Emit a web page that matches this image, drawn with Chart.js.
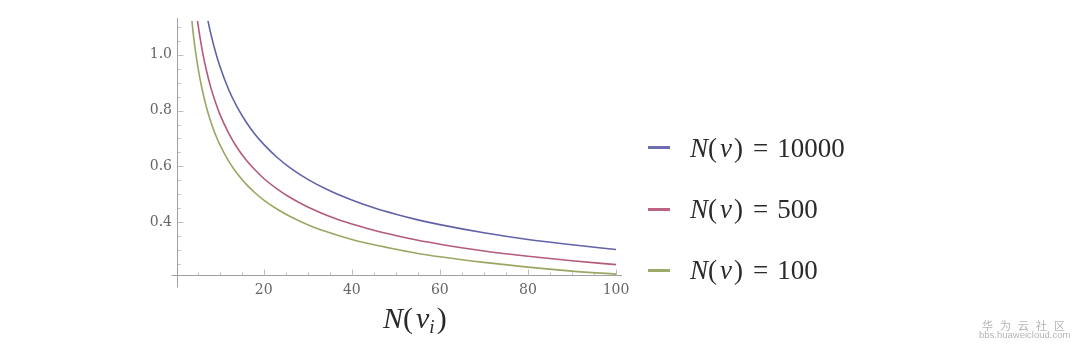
<!DOCTYPE html>
<html lang="en">
<head>
<meta charset="UTF-8">
<title>N(v_i)</title>
<script src="https://cdn.jsdelivr.net/npm/chart.js"></script>
<style>
    html, body { margin: 0; padding: 0; background: #fff; }
    body { width: 1080px; height: 351px; position: relative; overflow: hidden; }
    #wrap { position: absolute; left: 0; top: 0; width: 1080px; height: 351px; }
    .math {
        position: absolute;
        font-family: "Liberation Serif", "DejaVu Serif", serif;
        color: #2a2a2a;
        white-space: nowrap;
        line-height: 1;
    }
    .math i { font-style: italic; }
    .math .v { margin: 0 2px 0 3px; }
    .math .eq { margin: 0 9px 0 10px; }
    .key { position: absolute; left: 648px; width: 22px; height: 3px; }
    .legend-text { left: 690px; font-size: 27px; transform: translateY(-50%); }
    #xtitle { left: 383px; top: 303px; font-size: 30px; }
    #xtitle sub { font-size: 19px; vertical-align: -5px; }
    .wm { position: absolute; color: #b4b4b4; font-family: "Noto Sans CJK SC", sans-serif; white-space: nowrap; }
</style>
</head>
<body>
<div id="wrap"><canvas id="chart"></canvas></div>

<div class="key" style="top:146px;background:#6d6db0"></div>
<div class="math legend-text" style="top:148px"><i>N</i>(<i class="v">v</i>)<span class="eq">=</span>10000</div>
<div class="key" style="top:208px;background:#ba6383"></div>
<div class="math legend-text" style="top:209px"><i>N</i>(<i class="v">v</i>)<span class="eq">=</span>500</div>
<div class="key" style="top:269px;background:#9cab6a"></div>
<div class="math legend-text" style="top:270px"><i>N</i>(<i class="v">v</i>)<span class="eq">=</span>100</div>

<div class="math" id="xtitle"><i>N</i>(<i class="v">v<sub>i</sub></i>)</div>

<div class="wm" style="left:982px;top:317px;font-size:11px;letter-spacing:7px">华为云社区</div>
<div class="wm" style="left:979px;top:329px;font-size:9.5px;font-family:'Liberation Sans',sans-serif">bbs.huaweicloud.com</div>

<script>
    // samples
    const xValues = [3, 4, 5, 6, 7, 8, 9, 10, 12, 14, 16, 18, 20, 23, 26, 30, 35, 40, 45, 50, 55, 60, 70, 80, 90, 100];
    const seriesLabels = ['N(v) = 10000', 'N(v) = 500', 'N(v) = 100'];
    const blueValues = [1.752, 1.517, 1.357, 1.239, 1.147, 1.073, 1.012, 0.960, 0.876, 0.811, 0.759, 0.715, 0.679, 0.633, 0.595, 0.554, 0.513, 0.480, 0.452, 0.429, 0.409, 0.392, 0.363, 0.339, 0.320, 0.303];
    const redValues = [1.439, 1.247, 1.115, 1.018, 0.942, 0.881, 0.831, 0.788, 0.720, 0.666, 0.623, 0.588, 0.557, 0.520, 0.489, 0.455, 0.421, 0.394, 0.372, 0.353, 0.336, 0.322, 0.298, 0.279, 0.263, 0.249];
    const greenValues = [1.239, 1.073, 0.960, 0.876, 0.811, 0.759, 0.715, 0.679, 0.620, 0.574, 0.537, 0.506, 0.480, 0.448, 0.421, 0.392, 0.363, 0.339, 0.320, 0.304, 0.289, 0.277, 0.257, 0.240, 0.226, 0.215];
    const xTickValues = [20, 40, 60, 80, 100];
    const yTickValues = [0.4, 0.6, 0.8, 1.0];

    const lineColors = ['#6262a8', '#b45a7c', '#98a862'];
    const allSeries = [blueValues, redValues, greenValues];

    const tickFont = { family: "'DejaVu Serif', 'Liberation Serif', serif", size: 14 };

    // mathematica style axes: crossing lines with inward ticks
    const mathAxes = {
        id: 'mathAxes',
        beforeDatasetsDraw(chart) {
            const { ctx, chartArea: a, scales: { x, y } } = chart;
            ctx.save();
            ctx.strokeStyle = '#a0a0a0';
            ctx.lineWidth = 1;
            const ax = Math.round(a.left) + 0.5;
            const ay = Math.round(a.bottom) + 0.5;
            ctx.beginPath();
            ctx.moveTo(ax, a.top - 3);
            ctx.lineTo(ax, ay + 12);
            ctx.moveTo(ax - 6, ay);
            ctx.lineTo(a.right + 6, ay);
            ctx.stroke();

            ctx.strokeStyle = '#bdbdbd';
            ctx.beginPath();
            for (let v = 5; v <= 100; v += 5) {
                const px = Math.round(x.getPixelForValue(v)) + 0.5;
                const len = v % 20 === 0 ? 6 : 3;
                ctx.moveTo(px, ay);
                ctx.lineTo(px, ay - len);
            }
            for (let k = 5; k <= 22; k++) {
                const v = k * 0.05;
                const py = Math.round(y.getPixelForValue(v)) + 0.5;
                const len = k % 4 === 0 ? 6 : 3;
                ctx.moveTo(ax, py);
                ctx.lineTo(ax + len, py);
            }
            ctx.stroke();
            ctx.restore();
        }
    };

    new Chart(document.getElementById('chart'), {
        type: 'line',
        data: {
            datasets: allSeries.map((vals, i) => ({
                label: seriesLabels[i],
                data: xValues.map((x, j) => ({ x: x, y: vals[j] })),
                borderColor: lineColors[i],
                borderWidth: 1.6,
                pointRadius: 0,
                fill: false,
                cubicInterpolationMode: 'monotone'
            }))
        },
        options: {
            responsive: true,
            maintainAspectRatio: false,
            animation: false,
            layout: { padding: { left: 0, top: 21, right: 464, bottom: 0 } },
            plugins: {
                legend: { display: false },
                tooltip: { enabled: false }
            },
            scales: {
                x: {
                    type: 'linear',
                    min: 0.3,
                    max: 100,
                    grid: { display: false, drawTicks: false },
                    border: { display: false },
                    ticks: { font: tickFont, color: '#666', padding: 7, maxRotation: 0, autoSkip: false },
                    afterBuildTicks: s => { s.ticks = xTickValues.map(v => ({ value: v })); },
                    afterFit: s => { s.height = 76; }
                },
                y: {
                    min: 0.212,
                    max: 1.12,
                    grid: { display: false, drawTicks: false },
                    border: { display: false },
                    ticks: { font: tickFont, color: '#666', padding: 5, autoSkip: false, callback: v => v.toFixed(1) },
                    afterBuildTicks: s => { s.ticks = yTickValues.map(v => ({ value: v })); },
                    afterFit: s => { s.width = 177; }
                }
            }
        },
        plugins: [mathAxes]
    });
</script>
</body>
</html>
